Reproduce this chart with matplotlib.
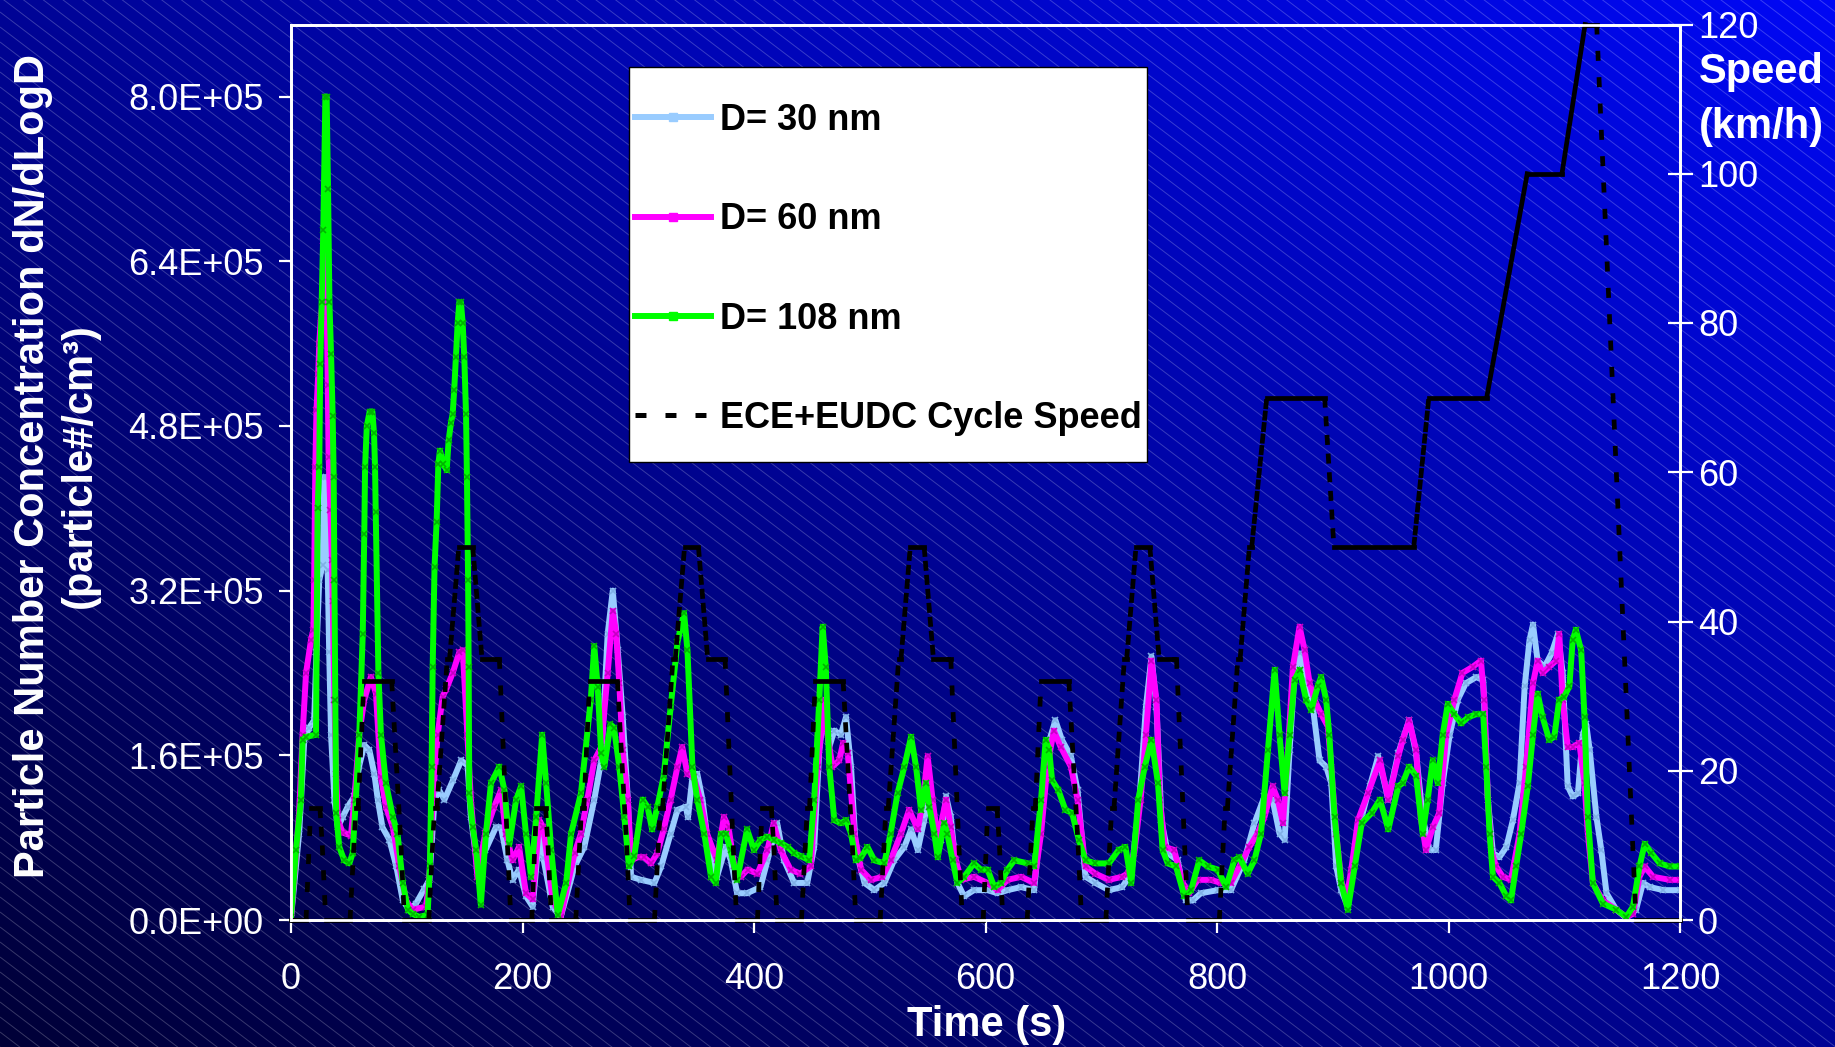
import numpy as np
import matplotlib as mpl
import matplotlib.pyplot as plt
from matplotlib.lines import Line2D
from matplotlib.patches import Rectangle
from matplotlib.collections import LineCollection
from matplotlib.ticker import FuncFormatter


# particle number concentration, values in units of 1E+05 particle#/cm3
t30 = [0, 7, 11.5, 15.8, 20, 22, 24.4, 27.3, 28.8, 30.2, 31.7, 33, 34.6, 37.5, 40.4, 44.6, 49, 54.7, 59, 63.3,
       67.7, 72, 75, 79, 85, 91, 96.6, 102, 108, 115, 119.5, 124, 128, 132.6, 140, 147, 152.6, 155.4, 161, 168,
       177, 181.4, 187, 191.4, 197, 203, 208.8, 214.5, 218, 226, 233, 245, 253.4, 262, 268, 273.6, 278, 282.3, 286.6, 291,
       293.8, 302.5, 314, 319.8, 328, 333.9, 341, 343, 346.8, 351, 355.5, 361, 368, 375.6, 380, 385.4, 394, 405.6, 411.6, 420,
       426, 434.7, 446, 452, 456.4, 460.6, 465, 469.4, 475, 479.5, 483.8, 488, 495.5, 504, 512.6, 521, 529.9, 535.7, 541.5, 547,
       551.5, 555.8, 561.4, 566, 570, 575.8, 581.5, 590, 601.8, 610.4, 619, 630.7, 642, 648, 653.4, 660.4, 666, 673.8, 679.5, 686.4,
       695, 706.6, 718, 726, 733, 738.6, 743.4, 747.7, 752, 757.4, 766, 773, 779, 786, 800.6, 812, 823.6, 832.3, 841, 848,
       854, 858.4, 862.7, 867, 871.3, 877, 882.8, 888.6, 894.3, 898.7, 903, 907.3, 913, 919, 925, 932, 939.3, 948, 956.6, 960.4,
       966, 972, 977.7, 983.5, 989, 995, 1001, 1008, 1015, 1024, 1030, 1034, 1038.4, 1044, 1050, 1055.6, 1061.4, 1065.8, 1070, 1073,
       1077, 1083, 1089, 1094.6, 1098.6, 1103, 1107.3, 1111.8, 1116, 1119, 1122, 1127.8, 1132, 1136.5, 1145, 1153.6, 1162, 1168, 1174, 1185.6,
       1200]
n30 = [0.02, 0.84, 1.75, 1.87, 1.94, 2.6, 3.3, 3.45, 4.3, 4.3, 3.4, 2.6, 1.8, 1.17, 0.90, 1.00, 1.10, 1.20, 1.50, 1.70,
       1.65, 1.42, 1.17, 0.90, 0.78, 0.52, 0.19, 0.10, 0.16, 0.30, 0.39, 1.17, 1.26, 1.17, 1.36, 1.55, 1.50, 1.00, 0.52, 0.68,
       0.90, 0.90, 0.58, 0.39, 0.49, 0.23, 0.13, 0.84, 0.60, 0.13, 0.03, 0.52, 0.71, 1.17, 1.55, 2.78, 3.20, 2.62, 1.97, 1.17,
       0.42, 0.39, 0.36, 0.52, 0.84, 1.07, 1.10, 1.00, 1.39, 1.42, 1.17, 0.68, 0.42, 0.71, 0.58, 0.26, 0.26, 0.32, 0.58, 0.94,
       0.58, 0.36, 0.36, 0.71, 1.65, 2.07, 1.68, 1.84, 1.80, 1.97, 1.49, 0.68, 0.36, 0.29, 0.36, 0.58, 0.71, 0.88, 0.68, 0.97,
       1.23, 0.97, 0.78, 1.20, 1.00, 0.36, 0.23, 0.29, 0.29, 0.26, 0.29, 0.32, 0.29, 1.00, 1.68, 1.94, 1.75, 1.59, 1.26, 0.42,
       0.36, 0.29, 0.32, 0.45, 1.17, 2.07, 2.56, 2.07, 0.97, 0.65, 0.58, 0.19, 0.19, 0.26, 0.29, 0.29, 0.58, 0.94, 1.20, 1.17,
       0.84, 0.78, 1.65, 2.40, 2.59, 2.33, 2.07, 1.55, 1.49, 1.33, 0.52, 0.29, 0.13, 0.68, 1.00, 1.30, 1.59, 1.17, 1.62, 1.75,
       1.94, 1.62, 1.00, 0.68, 0.68, 1.33, 1.80, 2.14, 2.30, 2.36, 2.33, 1.17, 0.65, 0.61, 0.71, 0.97, 1.33, 2.27, 2.72, 2.87,
       2.52, 2.46, 2.59, 2.78, 2.40, 1.30, 1.20, 1.23, 1.80, 1.90, 1.65, 1.00, 0.68, 0.26, 0.10, 0.02, 0.10, 0.36, 0.32, 0.29,
       0.29]

t60 = [0, 7, 10, 13, 17.3, 19.3, 20, 21, 22, 23.5, 24.4, 25.8, 27.3, 28, 29.4, 30.2, 31.7, 32.5, 34, 35.4,
       36, 37.5, 39, 40.5, 44.6, 51.8, 54.7, 59, 63.3, 69, 73.4, 77.7, 82, 88, 93.6, 99.4, 105, 116.6, 119.5, 122.4,
       126.7, 131, 134, 139.7, 145.4, 148.4, 152.4, 155.4, 161, 168, 175.5, 181.4, 185.6, 191.4, 197, 203, 208.8, 214.5, 218, 226,
       233, 245, 250.5, 256, 262, 268, 273.6, 278, 281, 283.6, 286.6, 291, 293.8, 299.5, 305, 311, 316.5, 322, 328, 333.9,
       338, 342.5, 348, 353.6, 359.4, 368, 374, 378, 383, 388.6, 394.4, 403, 411.6, 417, 423, 431.6, 440, 449, 455, 460.6,
       463.5, 467.8, 473.6, 477, 481, 486.8, 492.5, 501, 511, 518, 527, 534, 541.5, 546, 550, 554.3, 558.7, 566, 570, 574.4,
       579, 590, 601.8, 610.4, 619, 630.7, 642, 648, 653.4, 659, 665, 673.8, 679.5, 686.4, 695, 706.6, 718, 722.7, 728.5, 734,
       738.6, 743.4, 747.7, 750.6, 755, 763, 770.4, 776, 783.3, 794.8, 803.4, 812, 820.7, 828, 835, 841, 848, 852.6, 857, 861.3,
       865.6, 871.3, 875.7, 880, 884.3, 890, 895.8, 898.7, 903, 907.3, 911.6, 916, 921.8, 930.4, 940.8, 948, 956.6, 960.4, 966, 972,
       976, 980.5, 986.4, 992, 998, 1005, 1012, 1021, 1028, 1031, 1034, 1037, 1041, 1047, 1054, 1061.4, 1067, 1073, 1077, 1081.3,
       1087, 1093, 1095.7, 1098.6, 1103, 1107.3, 1113, 1117.5, 1120.4, 1124.7, 1133.4, 1145, 1153.6, 1159.4, 1165, 1169.5, 1176.8, 1191, 1200]
n60 = [0.02, 1.04, 1.80, 2.40, 2.72, 2.82, 3.3, 4.4, 4.95, 5.3, 5.6, 5.85, 6.0, 6.6, 6.96, 6.6, 5.2, 4.5, 3.98, 3.5,
       3.1, 2.14, 1.42, 0.97, 0.85, 0.82, 1.17, 1.81, 2.14, 2.36, 2.20, 1.39, 1.10, 0.90, 0.52, 0.19, 0.10, 0.13, 0.39, 1.17,
       1.80, 2.17, 2.24, 2.40, 2.60, 2.62, 1.80, 1.17, 0.42, 0.85, 1.10, 1.26, 0.84, 0.58, 0.71, 0.26, 0.20, 0.97, 0.90, 0.20,
       0.03, 0.65, 0.84, 1.17, 1.55, 1.68, 2.40, 3.00, 2.78, 2.30, 1.65, 1.17, 0.58, 0.61, 0.61, 0.55, 0.65, 0.88, 1.17, 1.49,
       1.68, 1.42, 1.39, 1.17, 0.84, 0.58, 1.00, 0.90, 0.52, 0.42, 0.49, 0.45, 0.68, 0.94, 0.68, 0.49, 0.45, 0.52, 1.49, 2.14,
       1.80, 1.49, 1.55, 1.72, 1.62, 0.84, 0.49, 0.39, 0.42, 0.58, 0.84, 1.07, 0.88, 1.17, 1.59, 1.17, 0.78, 1.17, 0.90, 0.58,
       0.39, 0.42, 0.36, 0.29, 0.39, 0.42, 0.36, 0.84, 1.49, 1.84, 1.68, 1.49, 1.17, 0.52, 0.45, 0.39, 0.42, 0.45, 0.65, 1.17,
       1.80, 2.52, 2.14, 1.17, 0.71, 0.68, 0.36, 0.26, 0.39, 0.39, 0.36, 0.36, 0.55, 0.71, 0.84, 1.00, 1.30, 1.17, 0.94, 1.65,
       2.46, 2.85, 2.62, 2.30, 2.14, 2.00, 1.88, 1.49, 0.84, 0.39, 0.19, 0.49, 0.97, 1.23, 1.55, 1.17, 1.59, 1.75, 1.94, 1.65,
       1.00, 0.68, 0.90, 1.04, 1.80, 2.14, 2.40, 2.46, 2.52, 2.14, 1.17, 0.68, 0.52, 0.42, 0.39, 0.84, 1.49, 2.30, 2.52, 2.40,
       2.46, 2.52, 2.78, 2.14, 1.68, 1.68, 1.72, 1.33, 0.84, 0.36, 0.19, 0.10, 0.03, 0.06, 0.42, 0.52, 0.42, 0.39, 0.39]

t108 = [0, 4.3, 8.6, 10, 13, 21.6, 23, 24.4, 25.3, 26.5, 27.9, 29.7, 30.8, 32, 33.2, 34.6, 36, 36.9, 37.5, 38.3,
        39, 41.7, 46, 50.4, 53.3, 56, 59, 62, 63.3, 64, 65.5, 68, 70.3, 71.7, 72.6, 73.2, 75.5, 77.7, 82, 88,
        92, 96.6, 101, 105, 110.8, 118, 120, 121.5, 122.4, 124, 125.8, 127.3, 128.7, 131.6, 134.5, 136.2, 138.2, 139.7, 141, 142.5,
        144, 145.4, 146.8, 148.3, 149.7, 151.2, 152, 153, 153.5, 154, 157, 160, 164, 168.4, 172.8, 180, 184.4, 188.7, 194.5, 198.8,
        203, 207.4, 211.8, 217, 220.4, 224.8, 230.5, 237.7, 242, 250.5, 259, 262, 265, 268, 270.7, 276, 279, 283.6, 288, 292,
        296.5, 303.8, 308, 312, 316.5, 322, 328, 333.9, 339.6, 342.5, 346.8, 351, 357, 362.9, 367, 371.4, 375.6, 379.7, 385.4, 394,
        400, 405.6, 411.4, 417, 423, 429, 434.7, 440.5, 447.6, 452, 456.4, 459.3, 462, 465, 469.4, 475, 479.5, 483.8, 488, 492,
        498, 504, 512.6, 518, 524, 529.9, 535.7, 540, 544.3, 548.6, 551.5, 555.8, 558.7, 564.4, 567, 571.5, 575.8, 581.5, 590, 596,
        601.8, 607.6, 613.4, 619, 624.9, 636.5, 642, 648, 652, 655, 657.5, 663, 669, 674.8, 680.6, 686.4, 695, 706.6, 715, 720.9,
        726, 732, 737.6, 743.4, 749, 753, 757.4, 764.6, 771.8, 777.6, 784.7, 792, 800.6, 807.8, 815, 819.4, 826.5, 832.3, 838, 844,
        849.8, 854, 858.4, 862.7, 867, 871.3, 877, 881.5, 887, 890, 894.3, 897, 901.6, 907.3, 913, 919, 925, 933.6, 940.8, 948,
        956.6, 960.4, 966, 972, 977.7, 982, 986.4, 990.7, 995, 999.4, 1005, 1011, 1017, 1024, 1030, 1032.6, 1035.5, 1038.4, 1044, 1050,
        1054, 1058.4, 1062.8, 1068.5, 1073, 1077, 1081.3, 1087, 1091.4, 1095.7, 1100, 1104.4, 1107.3, 1110, 1114.6, 1117.5, 1120.4, 1124.7, 1133.4, 1145,
        1153.6, 1159.4, 1165, 1169.5, 1175.3, 1182.5, 1191, 1200]
n108 = [0.03, 0.68, 1.17, 1.75, 1.78, 1.80, 4.0, 4.4, 5.4, 6.0, 6.7, 8.0, 8.0, 7.1, 6.0, 5.5, 4.9, 4.3, 3.3, 2.14,
        1.04, 0.71, 0.58, 0.55, 0.65, 1.17, 1.80, 2.78, 3.75, 4.4, 4.8, 4.94, 4.94, 4.73, 4.4, 3.96, 2.4, 1.80, 1.33, 1.00,
        0.84, 0.36, 0.10, 0.06, 0.03, 0.05, 0.52, 1.49, 2.46, 3.43, 3.87, 4.43, 4.56, 4.43, 4.37, 4.66, 4.83, 4.92, 5.15, 5.47,
        5.8, 6.0, 6.0, 5.8, 5.47, 4.92, 4.3, 3.3, 2.46, 1.23, 0.90, 0.68, 0.15, 0.84, 1.33, 1.49, 1.26, 0.74, 1.17, 1.30,
        0.84, 0.42, 1.00, 1.80, 1.33, 0.68, 0.05, 0.36, 0.84, 1.23, 2.14, 2.66, 2.26, 1.62, 1.49, 1.90, 1.87, 1.49, 1.00, 0.52,
        0.62, 1.17, 1.10, 0.88, 1.10, 1.40, 2.07, 2.70, 2.98, 2.62, 1.49, 1.17, 0.84, 0.42, 0.36, 0.84, 0.84, 0.68, 0.39, 0.88,
        0.68, 0.78, 0.81, 0.78, 0.75, 0.71, 0.65, 0.62, 0.58, 1.17, 2.14, 2.85, 2.46, 1.49, 0.97, 0.94, 0.97, 0.84, 0.58, 0.60,
        0.71, 0.58, 0.55, 0.84, 1.23, 1.49, 1.78, 1.49, 1.07, 1.33, 1.10, 0.84, 0.61, 0.94, 0.84, 0.58, 0.36, 0.42, 0.55, 0.49,
        0.49, 0.32, 0.36, 0.49, 0.58, 0.55, 0.52, 1.17, 1.75, 1.65, 1.36, 1.26, 1.07, 1.04, 0.78, 0.58, 0.55, 0.55, 0.68, 0.71,
        0.36, 1.17, 1.49, 1.75, 1.33, 0.68, 0.55, 0.52, 0.23, 0.29, 0.58, 0.52, 0.49, 0.32, 0.58, 0.61, 0.45, 0.58, 0.84, 1.65,
        2.43, 1.80, 1.23, 1.80, 2.33, 2.43, 2.14, 2.04, 2.27, 2.36, 2.14, 1.80, 1.00, 0.36, 0.10, 0.52, 0.94, 1.04, 1.17, 0.88,
        1.30, 1.33, 1.49, 1.40, 0.84, 1.17, 1.55, 1.33, 1.80, 2.10, 2.00, 1.91, 1.97, 2.00, 2.00, 1.49, 0.84, 0.42, 0.36, 0.23,
        0.19, 0.52, 0.84, 1.30, 1.80, 2.20, 1.97, 1.75, 1.78, 2.14, 2.17, 2.27, 2.72, 2.82, 2.62, 1.97, 1.00, 0.36, 0.16, 0.10,
        0.03, 0.13, 0.52, 0.74, 0.65, 0.55, 0.52, 0.52]

# driving cycle breakpoints (s, km/h): one ECE element (repeated 4x) and the EUDC part
ece_t = [0, 11, 15, 23, 25, 28, 49, 54, 56, 61, 85, 93, 96, 117, 122, 124, 133, 135, 143, 155, 163, 176, 178, 185, 188, 195]
ece_v = [0, 0, 15, 15, 10, 0, 0, 15, 15, 32, 32, 10, 0, 0, 15, 15, 35, 35, 50, 50, 35, 35, 35, 10, 0, 0]
eudc_t = [0, 20, 25, 27, 36, 38, 46, 48, 61, 111, 119, 188, 201, 251, 286, 316, 336, 346, 380, 400]
eudc_v = [0, 0, 15, 15, 35, 35, 50, 50, 70, 70, 50, 50, 70, 70, 100, 100, 120, 120, 0, 0]
cycle_lag = 2

labels = ['D= 30 nm', 'D= 60 nm', 'D= 108 nm', 'ECE+EUDC Cycle Speed']
colors = ['#99CCFF', '#FF00FF', '#00FF00']
mcolors = ['#7FB0E6', '#C400C4', '#00B400']

W, H, DPI = 1835, 1047, 100


def background(fig):
    bg = fig.add_axes([0, 0, 1, 1], zorder=-5)
    bg.set_axis_off()
    xx, yy = np.meshgrid(np.linspace(0, 1, 200), np.linspace(0, 1, 200))
    f = (xx + yy) / 2
    img = np.zeros((200, 200, 3))
    img[..., 2] = (55 + 190 * f) / 255
    img[..., 1] = (8 * f) / 255
    bg.imshow(img, extent=[0, W, 0, H], origin='lower', aspect='auto', interpolation='bilinear')
    slope = -0.76
    segs = []
    for c in np.arange(0, H - slope * W + 15, 15):
        segs.append([(0, c), (W, c + slope * W)])
    bg.add_collection(LineCollection(segs, colors='white', alpha=0.22, linewidths=0.7))
    bg.set_xlim(0, W)
    bg.set_ylim(0, H)


def speed_profile():
    st, sv = [0], [0]
    for k in range(4):
        st += [cycle_lag + 195 * k + t for t in ece_t]
        sv += ece_v
    st += [cycle_lag + 780 + t for t in eudc_t]
    sv += eudc_v
    st.append(1200)
    sv.append(0)
    return st, sv


def draw_speed(ax2, st, sv):
    # excel restarts the dash pattern at every 1 s sample: flat parts look solid, steep ramps dashed
    on_px = 10.0
    lw = 3.4
    for t0, v0, t1, v1 in zip(st[:-1], sv[:-1], st[1:], sv[1:]):
        if t1 <= t0:
            continue
        p0, p1 = ax2.transData.transform([(t0, v0), (t1, v1)])
        step = np.hypot(*(p1 - p0)) / (t1 - t0)
        if step <= on_px + 1.5:
            ax2.plot([t0, t1], [v0, v1], color='black', lw=lw, solid_capstyle='projecting', clip_on=False)
        else:
            on = on_px * 72 / DPI
            off = (step - on_px) * 72 / DPI
            ax2.plot([t0, t1], [v0, v1], color='black', lw=lw, ls=(0, (on, off)),
                     dash_capstyle='butt', clip_on=False)


def main():
    mpl.rcParams['font.family'] = ['Liberation Sans', 'DejaVu Sans']
    mpl.rcParams['lines.scale_dashes'] = False
    fig = plt.figure(figsize=(W / DPI, H / DPI), dpi=DPI)
    background(fig)

    ax = fig.add_axes([291 / W, 1 - 920 / H, (1680 - 291) / W, (920 - 24.5) / H])
    ax.set_facecolor('none')
    series = [(t30, n30), (t60, n60), (t108, n108)]
    for (t, n), c, mc, lab in zip(series, colors, mcolors, labels[:3]):
        ax.plot(t, np.array(n) * 1e5, color=c, lw=4.3, marker='x', ms=4, mew=1.2,
                mec=mc, label=lab, zorder=3)

    ax.set_xlim(0, 1200)
    ax.set_ylim(0, 8.7e5)
    ax.set_xticks(np.arange(0, 1201, 200))
    ax.set_yticks(np.arange(0, 8.01e5, 1.6e5))
    ax.yaxis.set_major_formatter(FuncFormatter(lambda v, p: f'{v:.1E}'))
    ax.tick_params(axis='y', colors='white', direction='out', length=8.6, width=1.6, labelsize=26, pad=11)
    ax.tick_params(axis='x', colors='white', direction='out', length=9.4, width=1.6, labelsize=26, pad=21)

    ax2 = ax.twinx()
    ax2.set_ylim(0, 120)
    ax2.set_yticks(np.arange(0, 121, 20))
    ax2.tick_params(axis='y', colors='white', direction='inout', length=18, width=1.6, labelsize=26, pad=4)
    for a in (ax, ax2):
        for s in a.spines.values():
            s.set_color('white')
            s.set_linewidth(2)

    st, sv = speed_profile()
    draw_speed(ax2, st, sv)

    fig.text(33 / W, 1 - 466 / H, 'Particle Number Concentration dN/dLogD', rotation=90,
             ha='center', va='center', color='white', fontsize=30, fontweight='bold')
    fig.text(80 / W, 1 - 466 / H, '(particle#/cm³)', rotation=90,
             ha='center', va='center', color='white', fontsize=30, fontweight='bold')
    fig.text(987 / W, 1 - 1025 / H, 'Time (s)', ha='center', va='center',
             color='white', fontsize=30, fontweight='bold')
    fig.text(1761 / W, 1 - 72 / H, 'Speed', ha='center', va='center',
             color='white', fontsize=30, fontweight='bold')
    fig.text(1761 / W, 1 - 127 / H, '(km/h)', ha='center', va='center',
             color='white', fontsize=30, fontweight='bold')

    # legend box
    fig.add_artist(Rectangle((629 / W, 1 - 462 / H), 518 / W, 395 / H, transform=fig.transFigure,
                             facecolor='white', edgecolor='black', lw=1, zorder=4))
    leg_handles = [Line2D([], [], color=c, lw=4.3, marker='s', ms=6, mec=c) for c in colors]
    leg_handles.append(Line2D([], [], color='black', lw=3.6, ls=(0, (7.9, 13.7)), dash_capstyle='butt'))
    leg = fig.legend(leg_handles, labels, loc='upper left', bbox_to_anchor=(635 / W, 1 - 103 / H),
                     frameon=False, borderpad=0, borderaxespad=0, labelspacing=1.78,
                     handlelength=2.1, handletextpad=0.25,
                     prop={'size': 26, 'weight': 'bold'})
    leg.set_zorder(5)

    fig.savefig('out.png', dpi=DPI)


if __name__ == '__main__':
    main()
